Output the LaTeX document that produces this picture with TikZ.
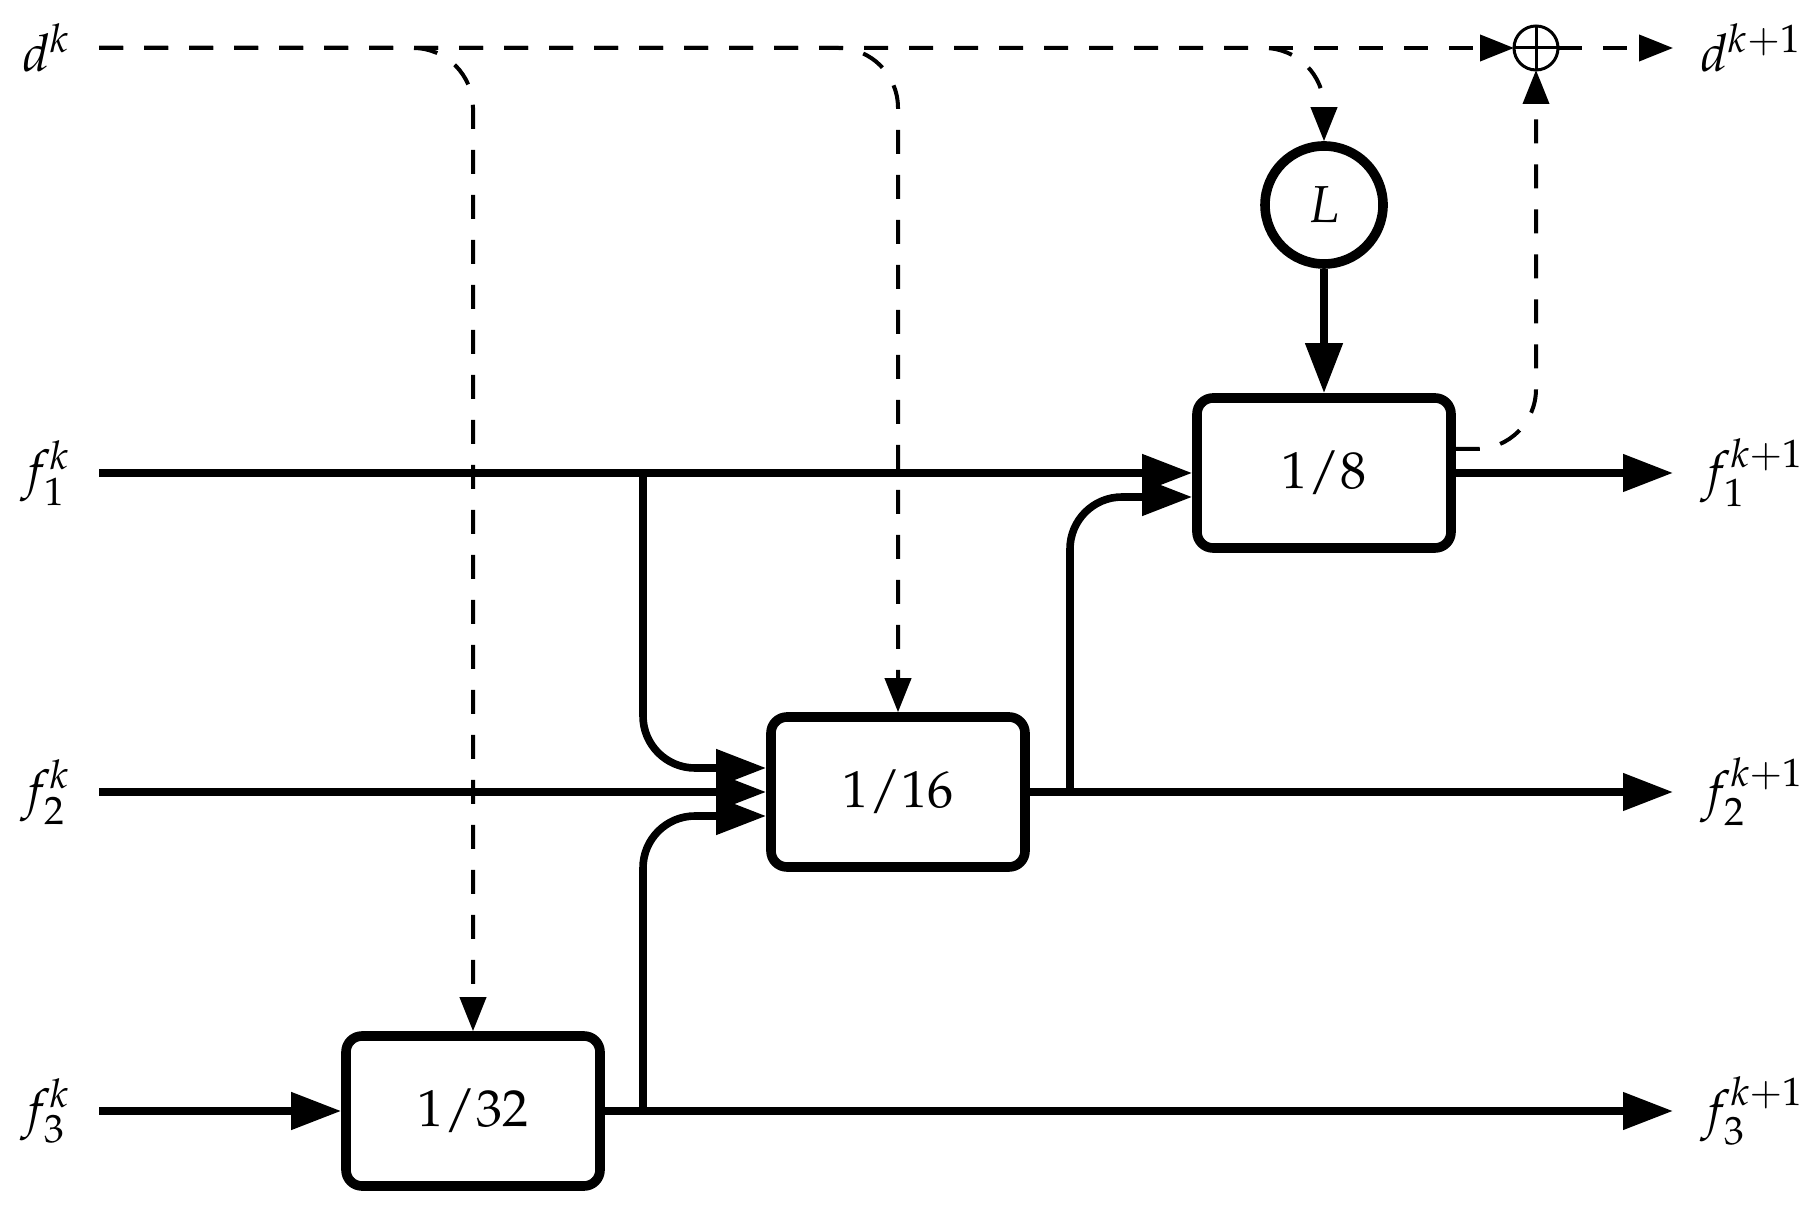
\documentclass[tikz,border=0pt]{standalone}
\usepackage{mathpazo}
\usetikzlibrary{arrows.meta}

\begin{document}
\begin{tikzpicture}[x=25pt, y=25pt,
  every node/.style={font=\fontsize{13}{15.6}\selectfont},
  block/.style={draw, rounded corners=4pt, line width=2.4pt, minimum width=63.5pt, minimum height=37.5pt, inner sep=0pt},
  lbl/.style={inner xsep=7pt, inner ysep=0pt, outer sep=0pt},
  fline/.style={line width=1.9pt, -{Triangle[length=12.5pt, width=9pt]}},
  dline/.style={line width=1pt, dash pattern=on 6pt off 5.25pt, -{Triangle[length=8.5pt, width=6.5pt]}}]
\useasboundingbox (0,0) rectangle (18.08,12.10);

% inputs and outputs
\node[lbl, anchor=east] (dk) at (0.99, 11.62) {$d^k$};
\node[lbl, anchor=east] (f1k) at (0.99, 7.37) {$f_1^k$};
\node[lbl, anchor=east] (f2k) at (0.99, 4.18) {$f_2^k$};
\node[lbl, anchor=east] (f3k) at (0.99, 0.99) {$f_3^k$};
\node[lbl, anchor=west] (dkk) at (16.73, 11.62) {$d^{k+1}$};
\node[lbl, anchor=west] (f1kk) at (16.73, 7.37) {$f_1^{k+1}$};
\node[lbl, anchor=west] (f2kk) at (16.73, 4.18) {$f_2^{k+1}$};
\node[lbl, anchor=west] (f3kk) at (16.73, 0.99) {$f_3^{k+1}$};

% blocks
\node[block] (b32) at (4.73, 0.99) {$1/32$};
\node[block] (b16) at (8.98, 4.18) {$1/16$};
\node[block] (b8) at (13.24, 7.37) {$1/8$};
\node[draw, circle, line width=2.4pt, minimum size=29.5pt, inner sep=0pt] (L) at (13.24, 10.05) {$L$};
\node[draw, circle, line width=0.75pt, minimum size=11pt, inner sep=0pt, outer sep=0pt] (sum) at (15.36, 11.62) {};
\draw[line width=0.75pt] (sum.north) -- (sum.south) (sum.west) -- (sum.east);

\coordinate (j1) at (6.43, 7.37);
\coordinate (j3) at (6.43, 0.99);
\coordinate (j2) at (10.70, 4.18);

% dashed d path
\draw[dline] (dk.east) -- (sum.west);
\draw[dline] (sum.east) -- (dkk.west);
\draw[dline, rounded corners=15pt] (dk.east) -| (b32.north);
\draw[dline, rounded corners=15pt] (dk.east) -| (b16.north);
\draw[dline, rounded corners=15pt] (dk.east) -| (L.north);
\draw[dline, rounded corners=15pt] ([yshift=6pt]b8.east) -| (sum.south);

% feature paths
\draw[fline] (f1k.east) -- (b8.west);
\draw[fline] (f2k.east) -- (b16.west);
\draw[fline] (f3k.east) -- (b32.west);
\draw[fline] (b32.east) -- (f3kk.west);
\draw[fline] (b16.east) -- (f2kk.west);
\draw[fline] (b8.east) -- (f1kk.west);
\draw[fline] (L) -- (b8);
\draw[fline, rounded corners=13pt] (j1) |- ([yshift=6pt]b16.west);
\draw[fline, rounded corners=13pt] (j3) |- ([yshift=-6pt]b16.west);
\draw[fline, rounded corners=13pt] (j2) |- ([yshift=-6pt]b8.west);
\end{tikzpicture}
\end{document}
